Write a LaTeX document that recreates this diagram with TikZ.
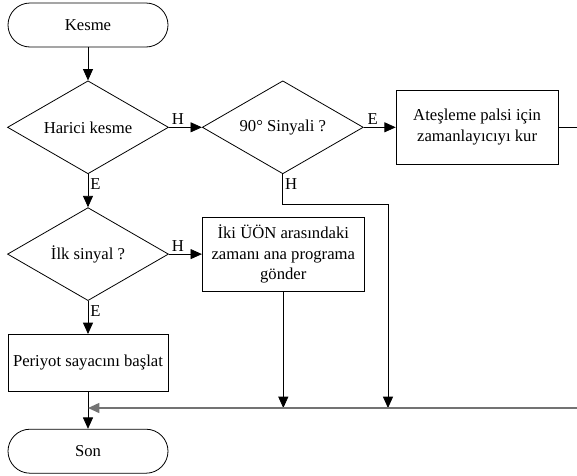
\documentclass[tikz,border=0pt]{standalone}
\usepackage{fontspec}
\setmainfont{Liberation Serif}
\usetikzlibrary{positioning, arrows.meta, shapes.geometric, calc}

\begin{document}
\begin{tikzpicture}[
    node distance=24.75pt,
    font=\fontsize{12.5}{15.5}\selectfont,
    term/.style={
        draw,
        rounded corners=16.5pt,
        minimum width=120pt,
        minimum height=33pt,
        line width=0.6pt
    },
    decision/.style={
        draw,
        diamond,
        aspect=1.73,
        inner sep=0pt,
        minimum width=120.75pt,
        minimum height=69.75pt,
        line width=0.6pt
    },
    box/.style={
        draw,
        align=center,
        minimum width=121.5pt,
        minimum height=55.5pt,
        inner sep=2pt,
        line width=0.6pt
    },
    arrow/.style={-{Triangle[length=8.5pt,width=7.5pt]}, line width=0.6pt},
    tag/.style={inner sep=1.5pt}
]
\useasboundingbox (0,0) rectangle (432.75pt,-356.25pt);

% --- main column ---
\node[term] (kesme) at (66pt,-18.75pt) {Kesme};
\node[decision, below=of kesme] (harici) {Harici kesme};
\node[decision, below=of harici] (ilk) {İlk sinyal ?};
\node[box, below=of ilk, minimum width=120pt, minimum height=42.75pt] (periyot) {Periyot sayacını başlat};
\node[term, below=27.75pt of periyot] (son) {Son};

% --- right side ---
\node[decision, right=of harici] (sinyal) {90° Sinyali ?};
\node[box, right=24pt of sinyal] (zaman) {Ateşleme palsi için\\zamanlayıcıyı kur};
\node[box, right=of ilk] (gonder) {İki ÜÖN arasındaki\\zamanı ana programa\\gönder};

% --- edge and join points ---
\coordinate (edge) at (432.75pt,0);
\coordinate (ret) at (291pt,-306pt);

\draw[arrow] (kesme) -- (harici);
\draw[arrow] (harici) -- node[pos=0.27, above, tag] {H} (sinyal);
\draw[arrow] (harici) -- node[pos=0.3, right, tag] {E} (ilk);
\draw[arrow] (sinyal) -- node[pos=0.28, above, tag] {E} (zaman);
\draw[arrow] (ilk) -- node[pos=0.27, above, tag] {H} (gonder);
\draw[arrow] (ilk) -- node[pos=0.3, right, tag] {E} (periyot);
\draw[arrow] (periyot) -- (son);

% --- stub out to the right ---
\draw[line width=0.6pt] (zaman.east) -- (zaman.east -| edge);

% --- H of 90 degree down to return line ---
\draw[arrow] (sinyal.south) -- node[pos=0.33, right, tag] {H} ++(0,-22.5pt) -| (ret);
\draw[arrow] (gonder.south) -- (gonder.south |- ret);

% --- return line ---
\draw[-{Triangle[length=8.5pt,width=7.5pt]}, line width=1.1pt, black!55]
(edge |- ret) -- (periyot.south |- ret);

\end{tikzpicture}
\end{document}
